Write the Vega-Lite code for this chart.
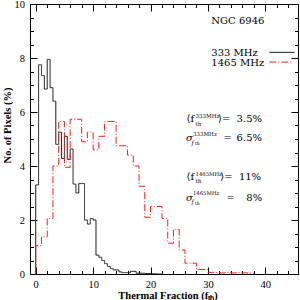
{
  "$schema": "https://vega.github.io/schema/vega-lite/v6.json",
  "width": 268,
  "height": 270,
  "autosize": {"type": "none"},
  "padding": {"left": 30, "top": 4, "right": 2, "bottom": 26},
  "background": "white",
  "config": {
    "view": {"stroke": "black", "strokeWidth": 1},
    "axis": {"domain": false, "grid": false, "tickColor": "black", "tickWidth": 1, "labelFont": "Liberation Serif", "labelFontSize": 10.5, "labelColor": "black", "titleFont": "Liberation Serif", "titleFontWeight": "bold", "titleFontSize": 10.5, "titleColor": "black", "labelFlush": false, "labelOverlap": false},
    "text": {"font": "DejaVu Serif", "fontSize": 10, "fill": "black"}
  },
  "data": {"values": [
    {"band": "333 MHz", "f": 0, "pct": 0},
    {"band": "333 MHz", "f": 0.5, "pct": 3.3},
    {"band": "333 MHz", "f": 1, "pct": 7.75},
    {"band": "333 MHz", "f": 1.5, "pct": 7.35},
    {"band": "333 MHz", "f": 2, "pct": 6.85},
    {"band": "333 MHz", "f": 2.5, "pct": 7.95},
    {"band": "333 MHz", "f": 3, "pct": 6.9},
    {"band": "333 MHz", "f": 3.5, "pct": 6.4},
    {"band": "333 MHz", "f": 4, "pct": 4.8},
    {"band": "333 MHz", "f": 4.5, "pct": 5.25},
    {"band": "333 MHz", "f": 5, "pct": 4.28},
    {"band": "333 MHz", "f": 5.5, "pct": 5.1},
    {"band": "333 MHz", "f": 6, "pct": 4.25},
    {"band": "333 MHz", "f": 6.5, "pct": 4.63},
    {"band": "333 MHz", "f": 7, "pct": 3.33},
    {"band": "333 MHz", "f": 7.5, "pct": 3.0},
    {"band": "333 MHz", "f": 8, "pct": 3.35},
    {"band": "333 MHz", "f": 8.5, "pct": 3.35},
    {"band": "333 MHz", "f": 9, "pct": 2.0},
    {"band": "333 MHz", "f": 9.5, "pct": 1.85},
    {"band": "333 MHz", "f": 10, "pct": 2.05},
    {"band": "333 MHz", "f": 10.5, "pct": 2.0},
    {"band": "333 MHz", "f": 11, "pct": 0.7},
    {"band": "333 MHz", "f": 11.5, "pct": 0.62},
    {"band": "333 MHz", "f": 12, "pct": 0.5},
    {"band": "333 MHz", "f": 12.5, "pct": 0.38},
    {"band": "333 MHz", "f": 13, "pct": 0.28},
    {"band": "333 MHz", "f": 13.5, "pct": 0.2},
    {"band": "333 MHz", "f": 14, "pct": 0.15},
    {"band": "333 MHz", "f": 14.5, "pct": 0.15},
    {"band": "333 MHz", "f": 15, "pct": 0.08},
    {"band": "333 MHz", "f": 15.5, "pct": 0.05},
    {"band": "333 MHz", "f": 16, "pct": 0.05},
    {"band": "333 MHz", "f": 16.5, "pct": 0.05},
    {"band": "333 MHz", "f": 17, "pct": 0.1},
    {"band": "333 MHz", "f": 17.5, "pct": 0.1},
    {"band": "333 MHz", "f": 18, "pct": 0.03},
    {"band": "333 MHz", "f": 19, "pct": 0.03},
    {"band": "333 MHz", "f": 20, "pct": 0.02},
    {"band": "333 MHz", "f": 21, "pct": 0.01},
    {"band": "333 MHz", "f": 22, "pct": 0},
    {"band": "1465 MHz", "f": 0, "pct": 0},
    {"band": "1465 MHz", "f": 1, "pct": 1.05},
    {"band": "1465 MHz", "f": 2, "pct": 1.38},
    {"band": "1465 MHz", "f": 3, "pct": 2.06},
    {"band": "1465 MHz", "f": 4, "pct": 4.0},
    {"band": "1465 MHz", "f": 5, "pct": 5.65},
    {"band": "1465 MHz", "f": 6, "pct": 3.95},
    {"band": "1465 MHz", "f": 7, "pct": 5.73},
    {"band": "1465 MHz", "f": 8, "pct": 5.73},
    {"band": "1465 MHz", "f": 9, "pct": 4.9},
    {"band": "1465 MHz", "f": 10, "pct": 5.25},
    {"band": "1465 MHz", "f": 11, "pct": 4.6},
    {"band": "1465 MHz", "f": 12, "pct": 5.1},
    {"band": "1465 MHz", "f": 13, "pct": 5.65},
    {"band": "1465 MHz", "f": 14, "pct": 5.65},
    {"band": "1465 MHz", "f": 15, "pct": 4.75},
    {"band": "1465 MHz", "f": 16, "pct": 4.75},
    {"band": "1465 MHz", "f": 17, "pct": 4.4},
    {"band": "1465 MHz", "f": 18, "pct": 4.0},
    {"band": "1465 MHz", "f": 19, "pct": 3.25},
    {"band": "1465 MHz", "f": 20, "pct": 2.1},
    {"band": "1465 MHz", "f": 21, "pct": 2.5},
    {"band": "1465 MHz", "f": 22, "pct": 2.5},
    {"band": "1465 MHz", "f": 23, "pct": 2.06},
    {"band": "1465 MHz", "f": 24, "pct": 1.14},
    {"band": "1465 MHz", "f": 25, "pct": 1.65},
    {"band": "1465 MHz", "f": 26, "pct": 0.89},
    {"band": "1465 MHz", "f": 27, "pct": 0.4},
    {"band": "1465 MHz", "f": 28, "pct": 0.4},
    {"band": "1465 MHz", "f": 29, "pct": 0.17},
    {"band": "1465 MHz", "f": 30, "pct": 0.17},
    {"band": "1465 MHz", "f": 31, "pct": 0.06},
    {"band": "1465 MHz", "f": 32, "pct": 0.05},
    {"band": "1465 MHz", "f": 33, "pct": 0.04},
    {"band": "1465 MHz", "f": 34, "pct": 0.06},
    {"band": "1465 MHz", "f": 35, "pct": 0.04},
    {"band": "1465 MHz", "f": 36, "pct": 0.05},
    {"band": "1465 MHz", "f": 37, "pct": 0.04},
    {"band": "1465 MHz", "f": 38, "pct": 0.03}
  ]},
  "resolve": {"axis": {"x": "independent", "y": "independent"}},
  "layer": [
    {
      "mark": {"type": "line", "interpolate": "step-before", "strokeWidth": 1},
      "encoding": {
        "x": {"field": "f", "type": "quantitative", "scale": {"domain": [-1, 45.7], "nice": false, "zero": false},
              "axis": {"orient": "bottom", "values": [0, 10, 20, 30, 40], "tickSize": -7, "labelPadding": 12, "title": "Thermal Fraction (fₜₕ)", "titleX": 137.5, "titleY": 21, "titleBaseline": "middle"}},
        "y": {"field": "pct", "type": "quantitative", "scale": {"domain": [0, 10], "nice": false, "zero": false},
              "axis": {"orient": "left", "values": [0, 2, 4, 6, 8, 10], "tickSize": -7, "labelPadding": 12.5, "title": "No. of Pixels (%)", "titleX": -23, "titleY": 121, "titleBaseline": "middle", "titleAngle": 270}},
        "color": {"field": "band", "type": "nominal", "scale": {"domain": ["333 MHz", "1465 MHz"], "range": ["#1a1a1a", "#ff1a1a"]}, "legend": null},
        "strokeDash": {"field": "band", "type": "nominal", "scale": {"domain": ["333 MHz", "1465 MHz"], "range": [[1, 0], [7, 2, 1, 2]]}, "legend": null}
      }
    },
    {
      "mark": {"type": "point", "opacity": 0},
      "encoding": {
        "x": {"field": "f", "type": "quantitative", "axis": {"orient": "top", "values": [0, 10, 20, 30, 40], "tickSize": -7, "labels": false, "title": null}},
        "y": {"field": "pct", "type": "quantitative", "axis": {"orient": "right", "values": [0, 2, 4, 6, 8, 10], "tickSize": -7, "labels": false, "title": null}}
      }
    },
    {
      "mark": {"type": "point", "opacity": 0},
      "encoding": {
        "x": {"field": "f", "type": "quantitative", "axis": {"orient": "bottom", "values": [2, 4, 6, 8, 12, 14, 16, 18, 22, 24, 26, 28, 32, 34, 36, 38, 42, 44], "tickSize": -3.5, "labels": false, "title": null}},
        "y": {"field": "pct", "type": "quantitative", "axis": {"orient": "left", "values": [0.5, 1, 1.5, 2.5, 3, 3.5, 4.5, 5, 5.5, 6.5, 7, 7.5, 8.5, 9, 9.5], "tickSize": -3.5, "labels": false, "title": null}}
      }
    },
    {
      "mark": {"type": "point", "opacity": 0},
      "encoding": {
        "x": {"field": "f", "type": "quantitative", "axis": {"orient": "top", "values": [2, 4, 6, 8, 12, 14, 16, 18, 22, 24, 26, 28, 32, 34, 36, 38, 42, 44], "tickSize": -3.5, "labels": false, "title": null}},
        "y": {"field": "pct", "type": "quantitative", "axis": {"orient": "right", "values": [0.5, 1, 1.5, 2.5, 3, 3.5, 4.5, 5, 5.5, 6.5, 7, 7.5, 8.5, 9, 9.5], "tickSize": -3.5, "labels": false, "title": null}}
      }
    },
    {"data": {"values": [{}]}, "mark": {"type": "text", "text": "NGC 6946", "align": "left", "baseline": "middle"},
     "encoding": {"x": {"datum": 30.6, "type": "quantitative", "axis": null}, "y": {"datum": 9.38, "type": "quantitative", "axis": null}}},
    {"data": {"values": [{}]}, "mark": {"type": "text", "text": "333 MHz", "align": "left", "baseline": "middle"},
     "encoding": {"x": {"datum": 30.6, "type": "quantitative", "axis": null}, "y": {"datum": 8.2, "type": "quantitative", "axis": null}}},
    {"data": {"values": [{}]}, "mark": {"type": "text", "text": "1465 MHz", "align": "left", "baseline": "middle"},
     "encoding": {"x": {"datum": 30.6, "type": "quantitative", "axis": null}, "y": {"datum": 7.8, "type": "quantitative", "axis": null}}},
    {"data": {"values": [{}]}, "mark": {"type": "rule", "color": "#1a1a1a", "strokeWidth": 1},
     "encoding": {"x": {"datum": 40.7, "type": "quantitative", "axis": null}, "x2": {"datum": 45.1}, "y": {"datum": 8.21, "type": "quantitative", "axis": null}}},
    {"data": {"values": [{}]}, "mark": {"type": "rule", "color": "#ff1a1a", "strokeWidth": 1, "strokeDash": [7, 2, 1, 2]},
     "encoding": {"x": {"datum": 40.7, "type": "quantitative", "axis": null}, "x2": {"datum": 44.7}, "y": {"datum": 7.85, "type": "quantitative", "axis": null}}},

    {"data": {"values": [{}]}, "mark": {"type": "text", "text": "⟨f", "align": "left", "baseline": "middle"},
     "encoding": {"x": {"datum": 26.28, "type": "quantitative", "axis": null}, "y": {"datum": 5.74, "type": "quantitative", "axis": null}}},
    {"data": {"values": [{}]}, "mark": {"type": "text", "text": "333MHz", "align": "left", "baseline": "middle", "fontSize": 5.5},
     "encoding": {"x": {"datum": 27.85, "type": "quantitative", "axis": null}, "y": {"datum": 5.87, "type": "quantitative", "axis": null}}},
    {"data": {"values": [{}]}, "mark": {"type": "text", "text": "th", "align": "left", "baseline": "middle", "fontSize": 5.5},
     "encoding": {"x": {"datum": 27.85, "type": "quantitative", "axis": null}, "y": {"datum": 5.57, "type": "quantitative", "axis": null}}},
    {"data": {"values": [{}]}, "mark": {"type": "text", "text": "⟩=", "align": "left", "baseline": "middle"},
     "encoding": {"x": {"datum": 31.77, "type": "quantitative", "axis": null}, "y": {"datum": 5.74, "type": "quantitative", "axis": null}}},
    {"data": {"values": [{}]}, "mark": {"type": "text", "text": "3.5%", "align": "left", "baseline": "middle"},
     "encoding": {"x": {"datum": 35.0, "type": "quantitative", "axis": null}, "y": {"datum": 5.74, "type": "quantitative", "axis": null}}},

    {"data": {"values": [{}]}, "mark": {"type": "text", "text": "σ", "align": "left", "baseline": "middle", "fontStyle": "italic"},
     "encoding": {"x": {"datum": 26.2, "type": "quantitative", "axis": null}, "y": {"datum": 5.03, "type": "quantitative", "axis": null}}},
    {"data": {"values": [{}]}, "mark": {"type": "text", "text": "333MHz", "align": "left", "baseline": "middle", "fontSize": 5.5},
     "encoding": {"x": {"datum": 27.4, "type": "quantitative", "axis": null}, "y": {"datum": 5.2, "type": "quantitative", "axis": null}}},
    {"data": {"values": [{}]}, "mark": {"type": "text", "text": "f", "align": "left", "baseline": "middle", "fontSize": 6, "fontStyle": "italic"},
     "encoding": {"x": {"datum": 27.15, "type": "quantitative", "axis": null}, "y": {"datum": 4.86, "type": "quantitative", "axis": null}}},
    {"data": {"values": [{}]}, "mark": {"type": "text", "text": "th", "align": "left", "baseline": "middle", "fontSize": 4.5},
     "encoding": {"x": {"datum": 27.75, "type": "quantitative", "axis": null}, "y": {"datum": 4.8, "type": "quantitative", "axis": null}}},
    {"data": {"values": [{}]}, "mark": {"type": "text", "text": "=", "align": "left", "baseline": "middle"},
     "encoding": {"x": {"datum": 32.73, "type": "quantitative", "axis": null}, "y": {"datum": 5.04, "type": "quantitative", "axis": null}}},
    {"data": {"values": [{}]}, "mark": {"type": "text", "text": "6.5%", "align": "left", "baseline": "middle"},
     "encoding": {"x": {"datum": 35.0, "type": "quantitative", "axis": null}, "y": {"datum": 5.04, "type": "quantitative", "axis": null}}},

    {"data": {"values": [{}]}, "mark": {"type": "text", "text": "⟨f", "align": "left", "baseline": "middle"},
     "encoding": {"x": {"datum": 26.28, "type": "quantitative", "axis": null}, "y": {"datum": 3.58, "type": "quantitative", "axis": null}}},
    {"data": {"values": [{}]}, "mark": {"type": "text", "text": "1465MHz", "align": "left", "baseline": "middle", "fontSize": 5.3},
     "encoding": {"x": {"datum": 27.85, "type": "quantitative", "axis": null}, "y": {"datum": 3.7, "type": "quantitative", "axis": null}}},
    {"data": {"values": [{}]}, "mark": {"type": "text", "text": "th", "align": "left", "baseline": "middle", "fontSize": 5.5},
     "encoding": {"x": {"datum": 27.85, "type": "quantitative", "axis": null}, "y": {"datum": 3.44, "type": "quantitative", "axis": null}}},
    {"data": {"values": [{}]}, "mark": {"type": "text", "text": "⟩=", "align": "left", "baseline": "middle"},
     "encoding": {"x": {"datum": 32.15, "type": "quantitative", "axis": null}, "y": {"datum": 3.58, "type": "quantitative", "axis": null}}},
    {"data": {"values": [{}]}, "mark": {"type": "text", "text": "11%", "align": "left", "baseline": "middle"},
     "encoding": {"x": {"datum": 35.4, "type": "quantitative", "axis": null}, "y": {"datum": 3.58, "type": "quantitative", "axis": null}}},

    {"data": {"values": [{}]}, "mark": {"type": "text", "text": "σ", "align": "left", "baseline": "middle", "fontStyle": "italic"},
     "encoding": {"x": {"datum": 26.2, "type": "quantitative", "axis": null}, "y": {"datum": 2.83, "type": "quantitative", "axis": null}}},
    {"data": {"values": [{}]}, "mark": {"type": "text", "text": "1465MHz", "align": "left", "baseline": "middle", "fontSize": 5.3},
     "encoding": {"x": {"datum": 27.4, "type": "quantitative", "axis": null}, "y": {"datum": 3.0, "type": "quantitative", "axis": null}}},
    {"data": {"values": [{}]}, "mark": {"type": "text", "text": "f", "align": "left", "baseline": "middle", "fontSize": 6, "fontStyle": "italic"},
     "encoding": {"x": {"datum": 27.15, "type": "quantitative", "axis": null}, "y": {"datum": 2.66, "type": "quantitative", "axis": null}}},
    {"data": {"values": [{}]}, "mark": {"type": "text", "text": "th", "align": "left", "baseline": "middle", "fontSize": 4.5},
     "encoding": {"x": {"datum": 27.75, "type": "quantitative", "axis": null}, "y": {"datum": 2.6, "type": "quantitative", "axis": null}}},
    {"data": {"values": [{}]}, "mark": {"type": "text", "text": "=", "align": "left", "baseline": "middle"},
     "encoding": {"x": {"datum": 33.25, "type": "quantitative", "axis": null}, "y": {"datum": 2.83, "type": "quantitative", "axis": null}}},
    {"data": {"values": [{}]}, "mark": {"type": "text", "text": "8%", "align": "left", "baseline": "middle"},
     "encoding": {"x": {"datum": 36.7, "type": "quantitative", "axis": null}, "y": {"datum": 2.83, "type": "quantitative", "axis": null}}}
  ]
}
